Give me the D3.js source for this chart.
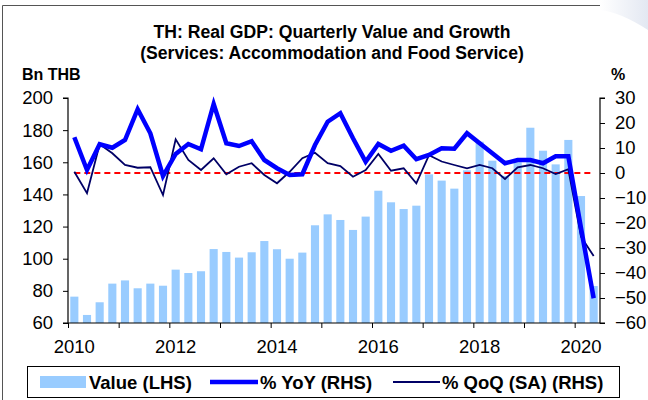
<!DOCTYPE html>
<html><head><meta charset="utf-8">
<script src="https://cdn.jsdelivr.net/npm/d3@7"></script>
<style>
body{margin:0;background:#fff;}
svg{display:block;font-family:Arial,"Liberation Sans",sans-serif;}
</style></head>
<body>
<svg id="chart" width="648" height="400"></svg>
<script>
const years = [2010,2011,2012,2013,2014,2015,2016,2017,2018,2019,2020];
const quarters = [];
years.forEach(y => [1,2,3,4].forEach(q => { if (!(y === 2020 && q > 2)) quarters.push(y + "Q" + q); }));
const valueLHS = [76.4,65,72.9,84.5,86.5,81.6,84.5,83.2,93.2,91.1,92.2,106,104.2,100.7,104,111,
  105.9,100,103.8,120.8,127.6,124.1,117.9,126.2,142.3,135.1,130.9,133,152.5,148.6,143.6,155,
  172.8,161,151.5,160,181.5,167.2,158.7,173.9,139,83];
const yoyRHS = [14.3,1.2,11.5,10.1,13.2,25.5,15.9,-1.2,7.6,11.6,9.5,27.6,11.9,10.8,12.7,5.2,
  1.9,-0.8,-0.5,11.2,20.5,23.9,13.9,4.5,11.6,8.9,10.9,5.5,7.2,9.9,9.7,15.9,
  11.9,7.9,3.9,5.2,5.2,3.9,6.7,6.7,-22,-50.1];
const qoqRHS = [0.5,-8.1,11.5,7.9,3.2,2.1,2.3,-8.8,13.5,5.2,1.2,5.9,-0.5,2.5,3.9,-0.8,
  -4.1,0.5,5.9,8.1,3.9,2.8,-1.5,1.2,7.6,0.9,1.9,-4.1,7.1,4.6,3.2,1.9,
  3.2,1.9,-2.4,2.3,3.2,1.9,-0.4,1.5,-25.5,-33.2];
const zeroLine = quarters.map(() => 0);
const leftTicks = [60,80,100,120,140,160,180,200];
const rightTicks = [-60,-50,-40,-30,-20,-10,0,10,20,30];
const titleLines = ["TH: Real GDP: Quarterly Value and Growth","(Services: Accommodation and Food Service)"];
const legendItems = ["Value (LHS)","% YoY (RHS)","% QoQ (SA) (RHS)"];

const svg = d3.select("#chart");
const L = 68, R = 600, T = 98, B = 323;

// outer frame
svg.append("path").attr("d","M2.5,400 L2.5,5.5 L600,5.5").attr("fill","none").attr("stroke","#555").attr("stroke-width",1);
const grad = svg.append("defs").append("linearGradient").attr("id","g").attr("x1","0").attr("x2","1");
grad.append("stop").attr("offset","0").attr("stop-color","#fff");
grad.append("stop").attr("offset","1").attr("stop-color","#e3e8f2");
svg.append("path").attr("d","M600,0 L648,0 L648,30 Q620,12 600,10 Z").attr("fill","url(#g)");

const x = d3.scaleBand().domain(quarters).range([L, R]).paddingInner(0.36).paddingOuter(0.18);
const xc = d => x(d) + x.bandwidth()/2;
const yL = d3.scaleLinear().domain([60,200]).range([B,T]);
const yR = d3.scaleLinear().domain([-60,30]).range([B,T]);
const xYear = d3.scaleLinear().domain([2010, 2020.5]).range([L, R]);

// bars
svg.append("g").selectAll("rect").data(quarters).join("rect")
  .attr("x", d => x(d)).attr("width", x.bandwidth())
  .attr("y", (d,i) => yL(valueLHS[i])).attr("height", (d,i) => B - yL(valueLHS[i]))
  .attr("fill","#99ccff");

// zero dashed line
svg.append("path").datum(zeroLine)
  .attr("d", d3.line().x((d,i) => xc(quarters[i])).y(d => yR(d)))
  .attr("fill","none").attr("stroke","#ff0000").attr("stroke-width",2).attr("stroke-dasharray","6,4");

// QoQ
svg.append("path").datum(qoqRHS)
  .attr("d", d3.line().x((d,i) => xc(quarters[i])).y(d => yR(d)))
  .attr("fill","none").attr("stroke","#000066").attr("stroke-width",1.8).attr("stroke-linejoin","miter");
// YoY
svg.append("path").datum(yoyRHS)
  .attr("d", d3.line().x((d,i) => xc(quarters[i])).y(d => yR(d)))
  .attr("fill","none").attr("stroke","#0000ff").attr("stroke-width",4.5).attr("stroke-linejoin","miter");

// axes
const fs = "18.5px";
const gl = svg.append("g").attr("transform",`translate(${L},0)`)
  .call(d3.axisLeft(yL).tickValues(leftTicks).tickSize(5).tickPadding(10));
const gr = svg.append("g").attr("transform",`translate(${R},0)`)
  .call(d3.axisRight(yR).tickValues(rightTicks).tickSize(5).tickPadding(10));
const gx = svg.append("g").attr("transform",`translate(0,${B})`)
  .call(d3.axisBottom(xYear).tickValues(years).tickSize(5).tickFormat(""));
[gl,gr,gx].forEach(g => {
  g.select(".domain").attr("stroke","#000").attr("stroke-width",1.2);
  g.selectAll(".tick line").attr("stroke","#000").attr("stroke-width",1);
  g.selectAll("text").attr("font-size",fs).attr("fill","#000").attr("font-family","Arial, Liberation Sans, sans-serif");
});
gr.select(".domain").attr("d",`M5,${T}H0V${B}H5`);
gl.select(".domain").attr("d",`M-5,${T}H0V${B}H-5`);
gx.select(".domain").attr("d",`M${L},0H${R}`);

// year labels (even years), centred under Q1
svg.append("g").selectAll("text").data(years.filter(y => y % 2 === 0)).join("text")
  .attr("x", y => xc(y + "Q1")).attr("y", 352.5)
  .attr("text-anchor","middle").attr("font-size",fs).text(y => y);

// titles
svg.append("g").selectAll("text").data(titleLines).join("text")
  .attr("x", 332).attr("y", (d,i) => 38 + i*21)
  .attr("text-anchor","middle").attr("font-size","17.6px").attr("font-weight","bold").text(d => d);
svg.append("text").attr("x",22).attr("y",80).attr("font-size","16px").attr("font-weight","bold").text("Bn THB");
svg.append("text").attr("x",611).attr("y",80).attr("font-size","16px").attr("font-weight","bold").text("%");

// legend
const lg = svg.append("g");
lg.append("rect").attr("x",27.5).attr("y",366.5).attr("width",592).attr("height",31)
  .attr("fill","#fff").attr("stroke","#000").attr("stroke-width",1);
const ly = 382;
lg.append("rect").attr("x",40).attr("y",ly-6).attr("width",46).attr("height",12).attr("fill","#99ccff");
lg.append("line").attr("x1",210).attr("x2",258).attr("y1",ly).attr("y2",ly).attr("stroke","#0000ff").attr("stroke-width",4.5);
lg.append("line").attr("x1",393).attr("x2",440).attr("y1",ly).attr("y2",ly).attr("stroke","#000066").attr("stroke-width",1.8);
const lx = [89, 260, 442];
lg.selectAll("text.l").data(legendItems).join("text").attr("class","l")
  .attr("x",(d,i) => lx[i]).attr("y", ly+6.5).attr("font-size","18.5px").attr("font-weight","bold").text(d => d);
</script>
</body></html>
